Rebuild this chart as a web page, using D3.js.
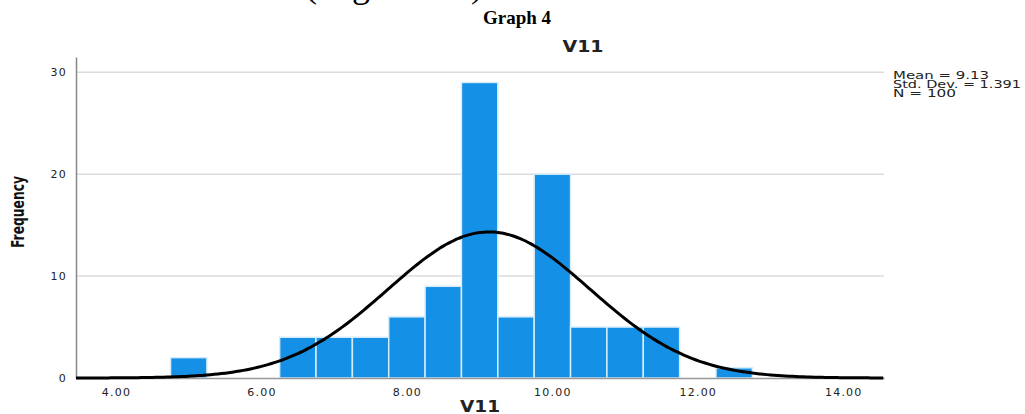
<!DOCTYPE html>
<html>
<head>
<meta charset="utf-8">
<script src="https://cdn.jsdelivr.net/npm/d3@7"></script>
<style>
  body { margin: 0; background: #fff; }
  svg text { font-family: "DejaVu Sans", sans-serif; }
</style>
</head>
<body>
<div id="chart-area"></div>
<script>
// Histogram data (bin centres, width 0.5)
var binCenters = [5.0, 6.5, 7.0, 7.5, 8.0, 8.5, 9.0, 9.5, 10.0, 10.5, 11.0, 11.5, 12.5];
var frequencies = [2, 4, 4, 4, 6, 9, 29, 6, 20, 5, 5, 5, 1];
var binWidth = 0.5;
var xTicks = [4, 6, 8, 10, 12, 14];
var yTicks = [0, 10, 20, 30];
var stats = { mean: 9.13, sd: 1.391, n: 100 };
var legendLines = ["Mean = 9.13", "Std. Dev. = 1.391", "N = 100"];
var legendLengths = [96, 128, 63];

var W = 1025, H = 414;
var margin = { left: 76, right: 141, top: 57, bottom: 36 };
var width = W - margin.left - margin.right,
    height = H - margin.top - margin.bottom;

var svg = d3.select("#chart-area").append("svg")
    .attr("width", W)
    .attr("height", H);

// cut-off caption line at the very top (only descenders show)
svg.append("text")
    .attr("x", 305).attr("y", -3)
    .attr("textLength", 178)
    .attr("lengthAdjust", "spacing")
    .style("font-family", "Liberation Serif, serif")
    .style("font-size", "36px")
    .attr("fill", "#000")
    .text("(Figure 11)");

svg.append("text")
    .attr("x", 517).attr("y", 24)
    .attr("text-anchor", "middle")
    .style("font-family", "Liberation Serif, serif")
    .style("font-weight", "bold")
    .style("font-size", "19px")
    .text("Graph 4");

svg.append("text")
    .attr("x", 583).attr("y", 52)
    .attr("text-anchor", "middle")
    .attr("textLength", 41)
    .attr("lengthAdjust", "spacingAndGlyphs")
    .style("font-weight", "bold")
    .style("font-size", "15px")
    .attr("fill", "#222")
    .text("V11");

var g = svg.append("g")
    .attr("transform", "translate(" + margin.left + "," + margin.top + ")");

var x = d3.scaleLinear().domain([3.45, 14.56]).range([0, width]);
var y = d3.scaleLinear().domain([0, 31.5]).range([height, 0]);

// gridlines
g.selectAll(".grid").data(yTicks.filter(function(d) { return d > 0; }))
    .enter().append("line")
    .attr("x1", 0).attr("x2", width)
    .attr("y1", function(d) { return y(d); })
    .attr("y2", function(d) { return y(d); })
    .attr("stroke", "#dcdcdc")
    .attr("stroke-width", 1.5);

// bars
g.selectAll(".bar").data(binCenters)
    .enter().append("rect")
    .attr("x", function(d) { return x(d - binWidth / 2); })
    .attr("width", function(d) { return x(d + binWidth / 2) - x(d - binWidth / 2); })
    .attr("y", function(d, i) { return y(frequencies[i]); })
    .attr("height", function(d, i) { return height - y(frequencies[i]); })
    .attr("fill", "#1490e6")
    .attr("stroke", "#d6ecfb")
    .attr("stroke-width", 1.5);

// axes
var yAxisCall = d3.axisLeft(y).tickValues(yTicks).tickSize(0).tickPadding(9);
var yAxis = g.append("g").call(yAxisCall);
yAxis.select(".domain").attr("stroke", "#888").attr("stroke-width", 1.5);
yAxis.selectAll("text").style("font-size", "11px").attr("fill", "#222")
    .style("letter-spacing", "1.2px");

var xAxisCall = d3.axisBottom(x).tickValues(xTicks).tickSize(0).tickPadding(10)
    .tickFormat(d3.format(".2f"));
var xAxis = g.append("g").attr("transform", "translate(0," + height + ")").call(xAxisCall);
xAxis.select(".domain").attr("stroke", "#999").attr("stroke-width", 1.5);
xAxis.selectAll("text").style("font-size", "11px").attr("fill", "#222")
    .style("letter-spacing", "1.2px");

// normal curve from the reported mean and std. dev.
var curveX = d3.range(x.domain()[0], x.domain()[1] + 0.001, 0.05);
var line = d3.line()
    .x(function(d) { return x(d); })
    .y(function(d) {
        var z = (d - stats.mean) / stats.sd;
        return y(stats.n * binWidth * Math.exp(-0.5 * z * z) / (stats.sd * Math.sqrt(2 * Math.PI)));
    })
    .curve(d3.curveBasis);
g.append("path")
    .datum(curveX)
    .attr("fill", "none")
    .attr("stroke", "#000")
    .attr("stroke-width", 3)
    .attr("d", line);

// axis titles
svg.append("text")
    .attr("transform", "rotate(-90)")
    .attr("x", -212).attr("y", 24)
    .attr("text-anchor", "middle")
    .attr("textLength", 72)
    .attr("lengthAdjust", "spacingAndGlyphs")
    .style("font-weight", "bold")
    .style("font-size", "18px")
    .attr("fill", "#111")
    .text("Frequency");

svg.append("text")
    .attr("x", margin.left + width / 2).attr("y", 412)
    .attr("text-anchor", "middle")
    .attr("textLength", 40)
    .attr("lengthAdjust", "spacingAndGlyphs")
    .style("font-weight", "bold")
    .style("font-size", "15px")
    .attr("fill", "#222")
    .text("V11");

// legend
svg.selectAll(".legend").data(legendLines)
    .enter().append("text")
    .attr("x", 893)
    .attr("y", function(d, i) { return 79 + i * 9; })
    .attr("textLength", function(d, i) { return legendLengths[i]; })
    .attr("lengthAdjust", "spacingAndGlyphs")
    .style("font-size", "10px")
    .attr("fill", "#222")
    .text(function(d) { return d; });
</script>
</body>
</html>
